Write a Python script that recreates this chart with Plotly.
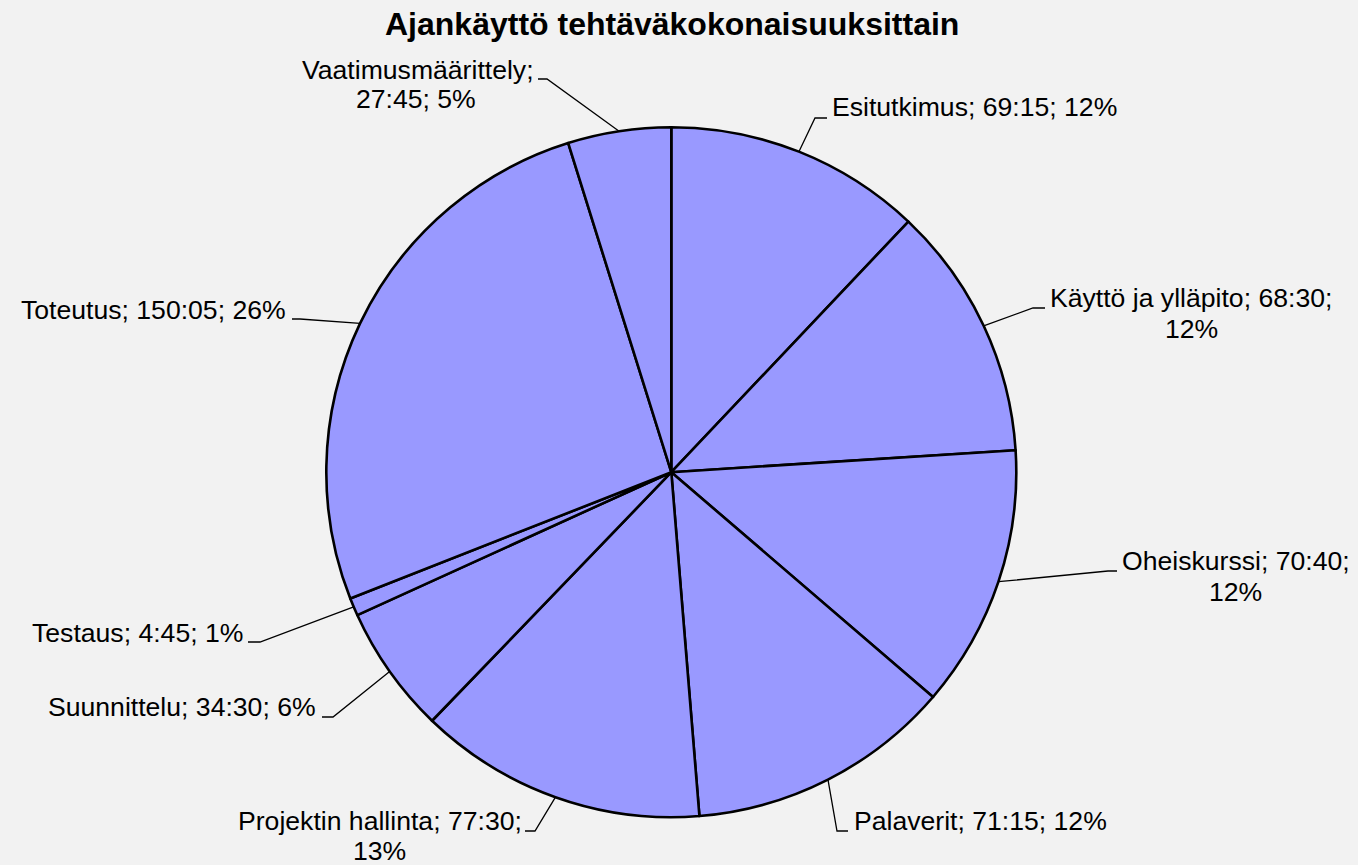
import math
import plotly.graph_objects as go

# ---- data ----
categories = ["Esitutkimus", "Käyttö ja ylläpito", "Oheiskurssi", "Palaverit",
              "Projektin hallinta", "Suunnittelu", "Testaus", "Toteutus",
              "Vaatimusmäärittely"]
minutes = [4155, 4110, 4240, 4275, 4650, 2070, 285, 9005, 1665]  # 69:15, 68:30, ...
title_text = "Ajankäyttö tehtäväkokonaisuuksittain"

# ---- layout constants ----
W, H = 1358, 865
CX, CY, R = 671.3, 472.2, 345
FS = 26.6
FONT = "Liberation Sans, Arial, sans-serif"
BG = "#F2F2F2"
FILL = "#9999FF"

# label placement (pixels): leader elbow, leader end, text anchor, baselines
label_layout = [
    dict(elbow=(815, 118), end=(827, 118), anchor="left", x1=830, base1=116.7),
    dict(elbow=(1033, 308), end=(1045, 308), anchor="left", x1=1048, base1=307.7,
         split="pct", x2=1191, base2=338),
    dict(elbow=(1108, 571), end=(1117, 571), anchor="left", x1=1120, base1=570.7,
         split="pct", x2=1235, base2=601.7),
    dict(elbow=(837, 831), end=(848, 831), anchor="left", x1=852, base1=830.7),
    dict(elbow=(535, 831), end=(525, 831), anchor="right", x1=524, base1=830.7,
         split="pct", x2=379, base2=860.5),
    dict(elbow=(333, 717), end=(322, 717), anchor="right", x1=318, base1=716.7),
    dict(elbow=(260, 642), end=(248, 642), anchor="right", x1=245, base1=642),
    dict(elbow=(300, 319), end=(292, 319), anchor="right", x1=288, base1=319),
    dict(elbow=(547, 79), end=(538, 79), anchor="right", x1=536, base1=79,
         split="name", x2=416, base2=108.3),
]


def px(x, y):
    return x / W, 1 - y / H


def bl2mid(b, fs=FS):
    return b - 0.3465 * fs


total = sum(minutes)
fig = go.Figure()
fig.add_trace(go.Pie(
    labels=categories, values=minutes, sort=False, direction="clockwise",
    rotation=0, textinfo="none", hoverinfo="label+percent",
    marker=dict(colors=[FILL] * len(minutes), line=dict(color="black", width=2.6)),
    domain=dict(x=[(CX - R) / W, (CX + R) / W], y=[(H - CY - R) / H, (H - CY + R) / H]),
    showlegend=False,
))

annotations = []
shapes = []
cum = 0
for cat, m, lay in zip(categories, minutes, label_layout):
    mid = (cum + m / 2) / total * 2 * math.pi
    cum += m
    ex, ey = CX + R * math.sin(mid), CY - R * math.cos(mid)
    pts = [px(ex, ey), px(*lay["elbow"]), px(*lay["end"])]
    path = "M {} {} L {} {} L {} {}".format(*[c for p in pts for c in p])
    shapes.append(dict(type="path", xref="paper", yref="paper", path=path,
                       line=dict(color="black", width=1.3)))
    tstr = f"{m // 60}:{m % 60:02d}"
    pct = f"{round(m / total * 100)}%"
    split = lay.get("split")
    if split == "pct":
        lines = [f"{cat}; {tstr};", pct]
    elif split == "name":
        lines = [f"{cat};", f"{tstr}; {pct}"]
    else:
        lines = [f"{cat}; {tstr}; {pct}"]
    x, y = px(lay["x1"], bl2mid(lay["base1"]))
    annotations.append(dict(text=lines[0], x=x, y=y, xref="paper", yref="paper",
                            xanchor=lay["anchor"], yanchor="middle", showarrow=False,
                            font=dict(family=FONT, size=FS, color="black")))
    if len(lines) > 1:
        x, y = px(lay["x2"], bl2mid(lay["base2"]))
        annotations.append(dict(text=lines[1], x=x, y=y, xref="paper", yref="paper",
                                xanchor="center", yanchor="middle", showarrow=False,
                                font=dict(family=FONT, size=FS, color="black")))

TFS = 32
tx, ty = px(671.5, bl2mid(35, TFS))
annotations.append(dict(text=f"<b>{title_text}</b>", x=tx, y=ty, xref="paper", yref="paper",
                        xanchor="center", yanchor="middle", showarrow=False,
                        font=dict(family=FONT, size=TFS, color="black")))

fig.update_layout(
    width=W, height=H, margin=dict(l=0, r=0, t=0, b=0),
    paper_bgcolor=BG, plot_bgcolor=BG,
    annotations=annotations, shapes=shapes,
)
fig.write_html("out.html")
